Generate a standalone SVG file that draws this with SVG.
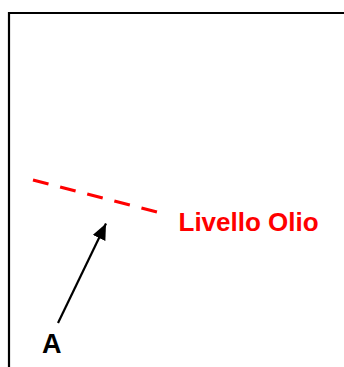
<svg xmlns="http://www.w3.org/2000/svg" width="344" height="367" viewBox="0 0 344 367">
<defs>
<style>
.lbl{font-family:"Liberation Sans",Arial,sans-serif;font-weight:bold}
</style>
<marker id="ah" viewBox="0 0 16 14" refX="16" refY="7" markerWidth="16" markerHeight="14" markerUnits="userSpaceOnUse" orient="auto">
<path d="M0,0 L16,7 L0,14 Z" fill="#000"/>
</marker>
</defs>
<rect width="344" height="367" fill="#fff"/>
<g id="frame">
<path d="M9,367 V13 H344" fill="none" stroke="#000" stroke-width="2.2"/>
</g>
<g id="oil-level">
<line x1="33" y1="180" x2="157" y2="212" stroke="#ff0000" stroke-width="3.3" stroke-dasharray="16 12"/>
<text class="lbl" x="178.5" y="230.5" font-size="26" fill="#ff0000">Livello Olio</text>
</g>
<g id="label-a">
<text class="lbl" x="42" y="353" font-size="27" fill="#000">A</text>
</g>
<g id="connectors">
<line x1="58" y1="323" x2="106" y2="223.5" stroke="#000" stroke-width="2.2" marker-end="url(#ah)"/>
</g>
</svg>
